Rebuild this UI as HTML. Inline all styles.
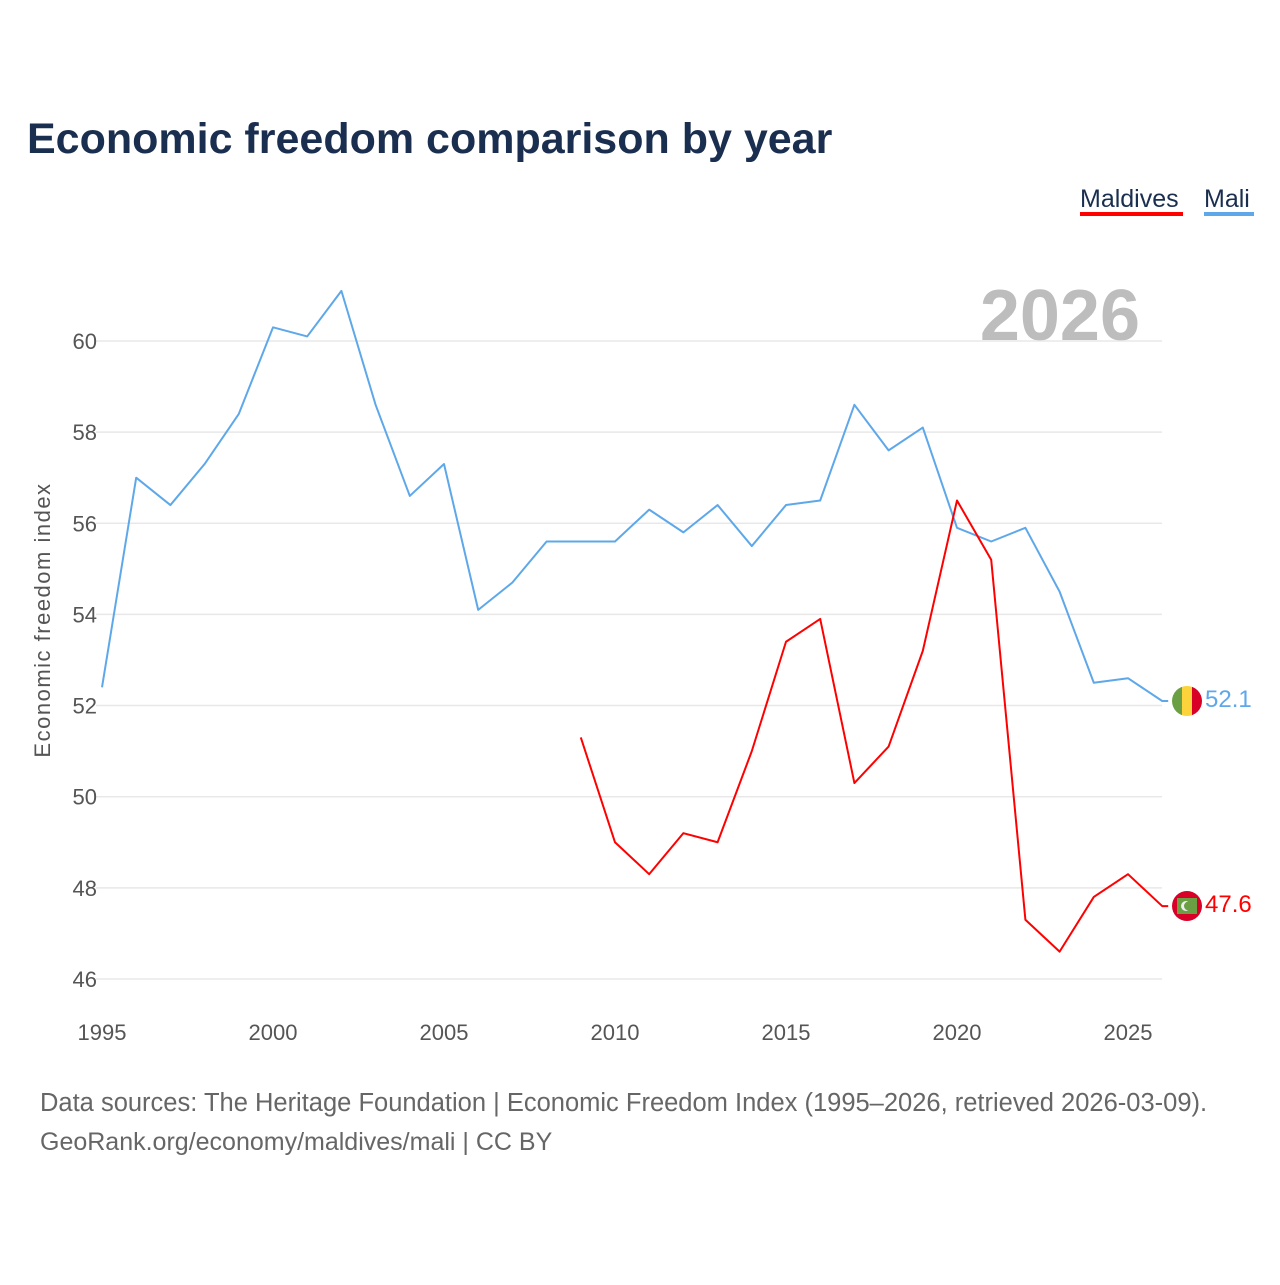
<!DOCTYPE html>
<html><head><meta charset="utf-8"><style>
body{margin:0;background:#fff;font-family:"Liberation Sans",sans-serif}
svg text{font-family:"Liberation Sans",sans-serif}
</style></head><body>
<svg width="1280" height="1280">
<text x="27" y="153" font-size="43" font-weight="bold" fill="#1a2e4f">Economic freedom comparison by year</text>
<g>
<text x="1080" y="207" font-size="25" fill="#1a2e4f">Maldives</text>
<rect x="1080" y="212" width="103" height="4" fill="#ff0000"/>
<text x="1204" y="207" font-size="25" fill="#1a2e4f">Mali</text>
<rect x="1204" y="212" width="50" height="4" fill="#5ea8ea"/>
</g>
<text x="1140" y="340" font-size="72" font-weight="bold" fill="#bdbdbd" text-anchor="end">2026</text>
<g id="grid"></g><g id="xt"></g><g id="lines"></g>
<text transform="translate(50,620) rotate(-90)" font-size="22" letter-spacing="1.5" fill="#555" text-anchor="middle">Economic freedom index</text>
<g>
<clipPath id="c1"><circle cx="1187" cy="701" r="15"/></clipPath>
<g clip-path="url(#c1)"><rect x="1172" y="686" width="10" height="30" fill="#6aa043"/><rect x="1182" y="686" width="10" height="30" fill="#fdd33c"/><rect x="1192" y="686" width="10" height="30" fill="#d80027"/></g>
</g>
<g>
<circle cx="1187" cy="906" r="15" fill="#d80027"/><rect x="1177" y="898" width="20" height="16" fill="#6aa043"/>
<circle cx="1186" cy="906" r="5" fill="#eee"/><circle cx="1188.5" cy="906" r="4.5" fill="#6aa043"/>
</g>
<text x="1205" y="707" font-size="24" fill="#5ea8ea">52.1</text>
<text x="1205" y="912" font-size="24" fill="#ff0000">47.6</text>
<text x="40" y="1111" font-size="25.5" fill="#666">Data sources: The Heritage Foundation | Economic Freedom Index (1995–2026, retrieved 2026-03-09).</text>
<text x="40" y="1150" font-size="25" fill="#666">GeoRank.org/economy/maldives/mali | CC BY</text>
</svg>
<script>
const years=[1995,1996,1997,1998,1999,2000,2001,2002,2003,2004,2005,2006,2007,2008,2009,2010,2011,2012,2013,2014,2015,2016,2017,2018,2019,2020,2021,2022,2023,2024,2025,2026];
const mali=[52.4,57.0,56.4,57.3,58.4,60.3,60.1,61.1,58.6,56.6,57.3,54.1,54.7,55.6,55.6,55.6,56.3,55.8,56.4,55.5,56.4,56.5,58.6,57.6,58.1,55.9,55.6,55.9,54.5,52.5,52.6,52.1];
const maldivesYears=[2009,2010,2011,2012,2013,2014,2015,2016,2017,2018,2019,2020,2021,2022,2023,2024,2025,2026];
const maldives=[51.3,49.0,48.3,49.2,49.0,51.0,53.4,53.9,50.3,51.1,53.2,56.5,55.2,47.3,46.6,47.8,48.3,47.6];
const yTicks=[46,48,50,52,54,56,58,60];
const xTicks=[1995,2000,2005,2010,2015,2020,2025];
const NS='http://www.w3.org/2000/svg';
const X=y=>102+(y-1995)*34.2, Y=v=>341+(60-v)*45.57;
function mk(t,a,p){const e=document.createElementNS(NS,t);for(const k in a)e.setAttribute(k,a[k]);p.appendChild(e);return e;}
const g=document.getElementById('grid');
yTicks.forEach(v=>{const l=mk('line',{x1:96,x2:1162,y1:Y(v),y2:Y(v),stroke:'#e8e8e8','stroke-width':1.5},g);


const t=mk('text',{x:97,y:Y(v)+8,'font-size':22,fill:'#555','text-anchor':'end'},g);t.textContent=v;

});
const xt=document.getElementById('xt');
xTicks.forEach(v=>{const t=mk('text',{x:X(v),y:1040,'font-size':22,fill:'#555','text-anchor':'middle'},xt);t.textContent=v;

});
const lg=document.getElementById('lines');
function line(xs,vs,c,n){const pts=xs.map((y,i)=>X(y)+','+Y(vs[i]));pts.push((X(xs[xs.length-1])+6)+','+Y(vs[vs.length-1]));
const p=mk('polyline',{points:pts.join(' '),fill:'none',stroke:c,'stroke-width':2,'stroke-linejoin':'round'},lg);

}
line(years,mali,'#5ea8ea','mali-line');
line(maldivesYears,maldives,'#ff0000','maldives-line');
</script>
</body></html>
